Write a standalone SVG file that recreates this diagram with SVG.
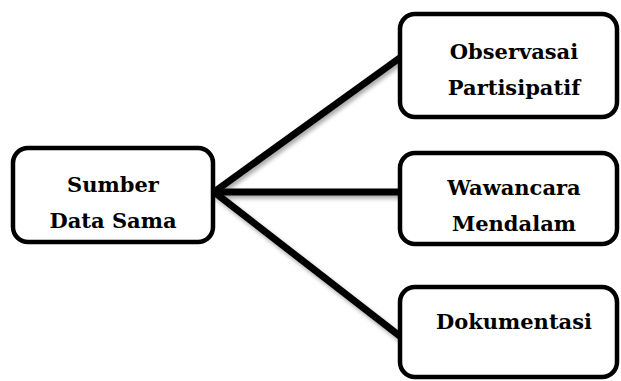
<svg xmlns="http://www.w3.org/2000/svg" width="621" height="381" viewBox="0 0 621 381">
<defs>
<filter id="sh" x="-10%" y="-10%" width="130%" height="130%">
<feGaussianBlur in="SourceAlpha" stdDeviation="2"/>
<feOffset dx="2" dy="3" result="b"/>
<feComponentTransfer><feFuncA type="linear" slope="0.35"/></feComponentTransfer>
<feMerge><feMergeNode/><feMergeNode in="SourceGraphic"/></feMerge>
</filter>
</defs>
<style>
.box{fill:#fff;stroke:#000;stroke-width:4.5}
.t{font-family:"DejaVu Serif",serif;font-weight:bold;font-size:21px;fill:#000;text-anchor:middle}
.c{stroke:#000;stroke-width:7;fill:none;stroke-linecap:butt}
</style>
<g id="connectors" filter="url(#sh)">
<line class="c" x1="214" y1="192" x2="401" y2="57"/>
<line class="c" x1="214" y1="192" x2="401" y2="192"/>
<line class="c" x1="214" y1="192" x2="401" y2="337"/>
</g>
<g id="n-sumber">
<rect class="box" x="13" y="148" width="200" height="94" rx="15"/>
<text class="t" x="113" y="192">Sumber</text>
<text class="t" x="113" y="228">Data Sama</text>
</g>
<g id="n-observasi">
<rect class="box" x="400" y="14" width="217" height="103" rx="15"/>
<text class="t" x="514" y="59">Observasai</text>
<text class="t" x="514" y="95">Partisipatif</text>
</g>
<g id="n-wawancara">
<rect class="box" x="400" y="153" width="217" height="91" rx="15"/>
<text class="t" x="514" y="195">Wawancara</text>
<text class="t" x="514" y="231">Mendalam</text>
</g>
<g id="n-dokumentasi">
<rect class="box" x="400" y="287" width="217" height="90" rx="15"/>
<text class="t" x="514" y="329">Dokumentasi</text>
</g>
</svg>
